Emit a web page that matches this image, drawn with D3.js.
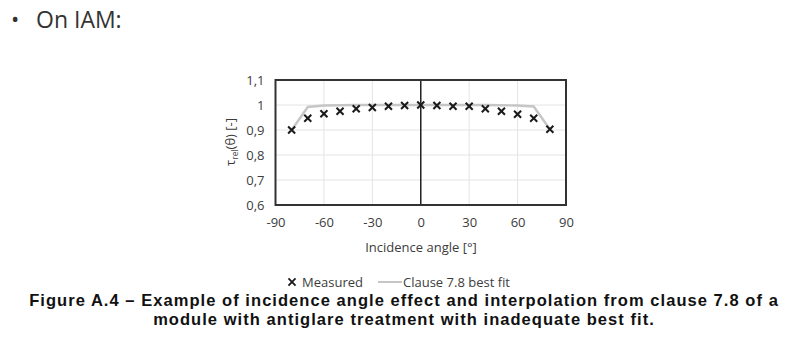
<!DOCTYPE html>
<html>
<head>
<meta charset="utf-8">
<script src="https://cdn.jsdelivr.net/npm/d3@7"></script>
<style>
  body { margin: 0; background: #fff; }
  svg { display: block; }
</style>
</head>
<body>
<div id="viz-container"></div>
<script>
// data
var angles = [-80, -70, -60, -50, -40, -30, -20, -10, 0, 10, 20, 30, 40, 50, 60, 70, 80];
var measured = [0.900, 0.947, 0.965, 0.975, 0.985, 0.990, 0.995, 0.998, 1.000, 0.998, 0.995, 0.995, 0.985, 0.975, 0.963, 0.947, 0.903];
var fitAngles = [-80, -70, -60, -50, -40, -30, -20, -10, 0, 10, 20, 30, 40, 50, 60, 70, 80];
var bestFit = [0.900, 0.992, 0.998, 0.999, 1.000, 1.000, 1.000, 1.000, 1.000, 1.000, 1.000, 1.000, 1.000, 0.999, 0.998, 0.994, 0.903];
var xTicks = [-90, -60, -30, 0, 30, 60, 90];
var yTicks = [0.6, 0.7, 0.8, 0.9, 1.0, 1.1];

var W = 799, H = 352;
var box = { left: 275.5, right: 566, top: 80, bottom: 205 };
var chartFont = "'Open Sans', 'Noto Sans', sans-serif";

var svg = d3.select('#viz-container')
    .append('svg')
      .attr('width', W)
      .attr('height', H);

// slide bullet
svg.append('text')
    .attr('x', 11).attr('y', 27)
    .attr('font-family', chartFont)
    .attr('font-size', 22)
    .attr('fill', '#333')
    .text('\u2022');
svg.append('text')
    .attr('x', 36).attr('y', 28)
    .attr('font-family', chartFont)
    .attr('font-size', 23)
    .attr('fill', '#333')
    .text('On IAM:');

var xScale = d3.scaleLinear().domain([-90, 90]).range([box.left, box.right]);
var yScale = d3.scaleLinear().domain([0.6, 1.1]).range([box.bottom, box.top]);

var fmtY = function(d) { return d3.format('.1f')(d).replace('.0', '').replace('.', ','); };
var fmtX = function(d) { return String(d); };

// gridlines
var grid = svg.append('g').attr('class', 'grid');
grid.selectAll('line.h')
  .data(yTicks)
  .enter().append('line')
    .attr('x1', box.left).attr('x2', box.right)
    .attr('y1', function(d) { return yScale(d); })
    .attr('y2', function(d) { return yScale(d); })
    .attr('stroke', '#e4e4e4').attr('stroke-width', 1);
grid.selectAll('line.v')
  .data(xTicks)
  .enter().append('line')
    .attr('y1', box.top).attr('y2', box.bottom)
    .attr('x1', function(d) { return xScale(d); })
    .attr('x2', function(d) { return xScale(d); })
    .attr('stroke', '#e4e4e4').attr('stroke-width', 1);

// axes (labels only)
var xAxis = d3.axisBottom(xScale).tickValues(xTicks).tickSize(0).tickPadding(13).tickFormat(fmtX);
var yAxis = d3.axisLeft(yScale).tickValues(yTicks).tickSize(0).tickPadding(11).tickFormat(fmtY);

var gx = svg.append('g')
    .attr('transform', 'translate(0,' + box.bottom + ')')
    .call(xAxis);
var gy = svg.append('g')
    .attr('transform', 'translate(' + box.left + ',0)')
    .call(yAxis);
[gx, gy].forEach(function(g) {
  g.select('.domain').remove();
  g.selectAll('text')
    .attr('font-family', chartFont)
    .attr('font-size', 13)
    .attr('fill', '#3c3c3c');
});

// zero line
svg.append('line')
    .attr('x1', xScale(0)).attr('x2', xScale(0))
    .attr('y1', box.top).attr('y2', box.bottom)
    .attr('stroke', '#222').attr('stroke-width', 1.5);

// best fit line
var line = d3.line()
    .x(function(d, i) { return xScale(fitAngles[i]); })
    .y(function(d) { return yScale(d); });
svg.append('path')
    .datum(bestFit)
    .attr('d', line)
    .attr('fill', 'none')
    .attr('stroke', '#c6c6c6')
    .attr('stroke-width', 2.4);

// measured crosses (symbolTimes is a stroked symbol)
var cross = d3.symbol().type(d3.symbolTimes).size(34);
svg.selectAll('path.mark')
  .data(measured)
  .enter().append('path')
    .attr('class', 'mark')
    .attr('d', cross)
    .attr('transform', function(d, i) {
      return 'translate(' + xScale(angles[i]) + ',' + yScale(d) + ')';
    })
    .attr('fill', 'none')
    .attr('stroke', '#1a1a1a')
    .attr('stroke-width', 2);

// plot frame
svg.append('rect')
    .attr('x', box.left).attr('y', box.top)
    .attr('width', box.right - box.left)
    .attr('height', box.bottom - box.top)
    .attr('fill', 'none')
    .attr('stroke', '#333')
    .attr('stroke-width', 2);

// axis titles
svg.append('text')
    .attr('x', 421).attr('y', 252)
    .attr('text-anchor', 'middle')
    .attr('font-family', chartFont)
    .attr('font-size', 13)
    .attr('fill', '#3c3c3c')
    .text('Incidence angle [\u00b0]');

var yt = svg.append('text')
    .attr('transform', 'translate(235,142) rotate(-90)')
    .attr('text-anchor', 'middle')
    .attr('font-family', chartFont)
    .attr('font-size', 13)
    .attr('fill', '#3c3c3c');
yt.append('tspan').text('\u03c4');
yt.append('tspan').attr('font-size', 8.5).attr('dy', 3).text('rel');
yt.append('tspan').attr('dy', -3).text('(\u03b8) [-]');

// legend
var legend = svg.append('g').attr('class', 'legend');
legend.append('path')
    .attr('d', cross)
    .attr('transform', 'translate(292,282)')
    .attr('fill', 'none')
    .attr('stroke', '#1a1a1a')
    .attr('stroke-width', 1.8);
legend.append('text')
    .attr('x', 302).attr('y', 286.5)
    .attr('font-family', chartFont)
    .attr('font-size', 13)
    .attr('fill', '#3c3c3c')
    .text('Measured');
legend.append('line')
    .attr('x1', 378).attr('x2', 402)
    .attr('y1', 282).attr('y2', 282)
    .attr('stroke', '#c6c6c6').attr('stroke-width', 2);
legend.append('text')
    .attr('x', 403).attr('y', 286.5)
    .attr('font-family', chartFont)
    .attr('font-size', 13)
    .attr('fill', '#3c3c3c')
    .text('Clause 7.8 best fit');

// caption
var caption = [
  'Figure A.4 \u2013 Example of incidence angle effect and interpolation from clause 7.8 of a',
  'module with antiglare treatment with inadequate best fit.'
];
svg.selectAll('text.caption')
  .data(caption)
  .enter().append('text')
    .attr('class', 'caption')
    .attr('x', 404)
    .attr('y', function(d, i) { return 306 + i * 19; })
    .attr('text-anchor', 'middle')
    .attr('font-family', "'Liberation Sans', Arial, sans-serif")
    .attr('font-weight', 'bold')
    .attr('font-size', 16.5)
    .attr('letter-spacing', 1.05)
    .attr('fill', '#111')
    .text(function(d) { return d; });
</script>
</body>
</html>
